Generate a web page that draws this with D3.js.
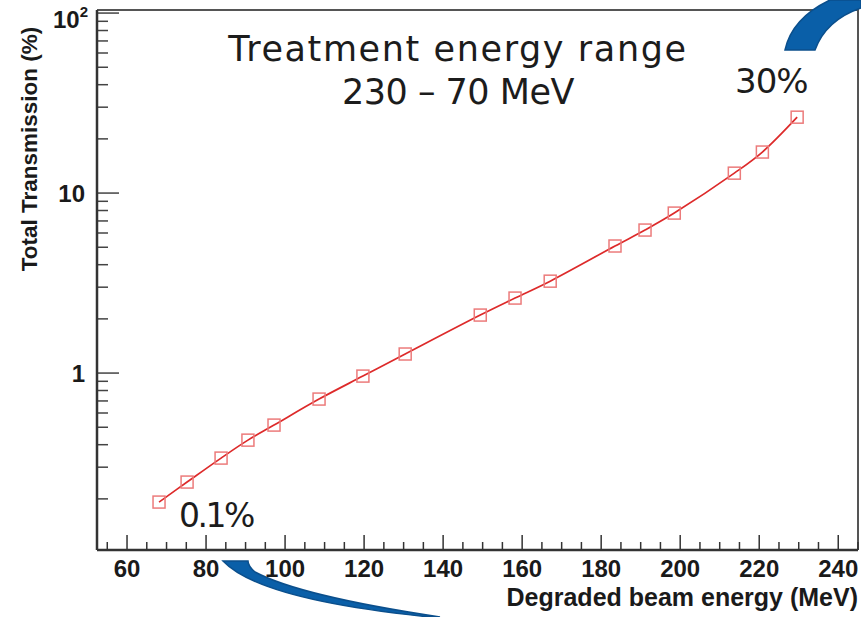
<!DOCTYPE html>
<html>
<head>
<meta charset="utf-8">
<script src="https://cdn.jsdelivr.net/npm/d3@7"></script>
<style>
  body { margin: 0; background: #fff; }
  svg { display: block; }
  .tick-label { font-family: "Liberation Sans", Arial, sans-serif; font-weight: bold; fill: #1a1a1a; }
  .note { font-family: "DejaVu Sans", sans-serif; font-weight: normal; fill: #1c1c1c; }
</style>
</head>
<body>
<svg id="chart" width="861" height="617"></svg>
<script>
// Datos: energía degradada (MeV) y transmisión total (%)
const energy = [68.1, 75.2, 83.8, 90.6, 97.2, 108.6, 119.7, 130.4, 149.4, 158.2, 167.1, 183.5, 191.1, 198.5, 213.7, 220.8, 229.6];
const transmission = [0.192, 0.248, 0.337, 0.424, 0.514, 0.717, 0.962, 1.276, 2.10, 2.61, 3.24, 5.08, 6.23, 7.74, 12.9, 16.9, 26.4];

const xMajorTicks = [60, 80, 100, 120, 140, 160, 180, 200, 220, 240];
const yMajorTicks = [1, 10, 100];
const xTitle = 'Degraded beam energy (MeV)';
const yTitle = 'Total Transmission (%)';
const noteLines = ['Treatment energy range', '230 – 70 MeV'];
const noteHigh = '30%';
const noteLow = '0.1%';

const width = 861;
const height = 617;
const margins = { left: 97, top: 10, right: 3, bottom: 67 };
const innerW = width - margins.left - margins.right;
const innerH = height - margins.top - margins.bottom;

const svg = d3.select('#chart');

// Escalas
const x = d3.scaleLinear().domain([52.4, 245]).range([margins.left, margins.left + innerW]);
const y = d3.scaleLog().domain([0.104, 104]).range([margins.top + innerH, margins.top]);

const points = energy.map((e, i) => ({ e, t: transmission[i] }));

// Marco (arriba y derecha)
svg.append('path')
  .attr('d', `M${margins.left},${margins.top}H${margins.left + innerW}V${margins.top + innerH}`)
  .attr('fill', 'none')
  .attr('stroke', '#555')
  .attr('stroke-width', 2);

// Eje X
const xMinor = d3.range(55, 246, 5).filter(v => v % 20 !== 0);
const xAxis = svg.append('g').attr('class', 'x-axis');
xAxis.selectAll('line.major')
  .data(xMajorTicks)
  .join('line')
  .attr('class', 'major')
  .attr('x1', d => x(d)).attr('x2', d => x(d))
  .attr('y1', y.range()[0]).attr('y2', y.range()[0] - 15)
  .attr('stroke', '#333').attr('stroke-width', 1.5);
xAxis.selectAll('line.minor')
  .data(xMinor)
  .join('line')
  .attr('class', 'minor')
  .attr('x1', d => x(d)).attr('x2', d => x(d))
  .attr('y1', y.range()[0]).attr('y2', y.range()[0] - 8)
  .attr('stroke', '#333').attr('stroke-width', 1.5);
xAxis.selectAll('text')
  .data(xMajorTicks)
  .join('text')
  .attr('class', 'tick-label')
  .attr('x', d => x(d))
  .attr('y', y.range()[0] + 27)
  .attr('text-anchor', 'middle')
  .style('font-size', '24px')
  .text(d => d);
xAxis.append('line')
  .attr('x1', margins.left).attr('x2', margins.left + innerW)
  .attr('y1', y.range()[0]).attr('y2', y.range()[0])
  .attr('stroke', '#333').attr('stroke-width', 2.5);

// Eje Y (logarítmico)
const yMinor = [];
[0.1, 1, 10].forEach(dec => d3.range(2, 10).forEach(k => yMinor.push(dec * k)));
const yAxis = svg.append('g').attr('class', 'y-axis');
yAxis.selectAll('line.major')
  .data(yMajorTicks)
  .join('line')
  .attr('class', 'major')
  .attr('x1', margins.left).attr('x2', margins.left + 22)
  .attr('y1', d => y(d)).attr('y2', d => y(d))
  .attr('stroke', '#444').attr('stroke-width', 1.5);
yAxis.selectAll('line.minor')
  .data(yMinor)
  .join('line')
  .attr('class', 'minor')
  .attr('x1', margins.left).attr('x2', margins.left + 11)
  .attr('y1', d => y(d)).attr('y2', d => y(d))
  .attr('stroke', '#444').attr('stroke-width', 1.5);
const yLabels = yAxis.selectAll('text')
  .data(yMajorTicks)
  .join('text')
  .attr('class', 'tick-label')
  .attr('text-anchor', 'end')
  .style('font-size', '24px');
yLabels.filter(d => d < 100)
  .attr('x', margins.left - 12)
  .attr('y', d => y(d) + 9)
  .text(d => d);
// 10^2 con superíndice
const sup = yLabels.filter(d => d === 100)
  .attr('x', margins.left - 9)
  .attr('y', d => y(d) + 15);
sup.append('tspan').text('10');
sup.append('tspan').attr('dy', -11).style('font-size', '15px').text('2');
yAxis.append('line')
  .attr('x1', margins.left).attr('x2', margins.left)
  .attr('y1', margins.top).attr('y2', margins.top + innerH)
  .attr('stroke', '#333').attr('stroke-width', 2.5);

// Títulos de los ejes
svg.append('text')
  .attr('class', 'tick-label')
  .attr('x', margins.left + innerW)
  .attr('y', 606)
  .attr('text-anchor', 'end')
  .style('font-size', '25px')
  .text(xTitle);
svg.append('text')
  .attr('class', 'tick-label')
  .attr('transform', `translate(37, 149) rotate(-90)`)
  .attr('text-anchor', 'middle')
  .style('font-size', '22.5px')
  .text(yTitle);

// Línea de datos
const line = d3.line()
  .x(d => x(d.e))
  .y(d => y(d.t))
  .curve(d3.curveCatmullRom);
svg.append('path')
  .datum(points)
  .attr('d', line)
  .attr('fill', 'none')
  .attr('stroke', '#dd2a2a')
  .attr('stroke-width', 1.7);

// Marcadores cuadrados
const size = 12;
svg.selectAll('rect.marker')
  .data(points)
  .join('rect')
  .attr('class', 'marker')
  .attr('x', d => x(d.e) - size / 2)
  .attr('y', d => y(d.t) - size / 2)
  .attr('width', size)
  .attr('height', size)
  .attr('fill', 'none')
  .attr('stroke', '#ec7b7b')
  .attr('stroke-width', 1.5);

// Anotaciones (un solo texto con dos líneas)
const note = svg.append('text')
  .attr('class', 'note')
  .attr('text-anchor', 'middle')
  .style('font-size', '35px');
note.selectAll('tspan')
  .data(noteLines)
  .join('tspan')
  .attr('x', 458)
  .attr('y', (d, i) => 61 + i * 43)
  .style('letter-spacing', (d, i) => i === 0 ? '1.6px' : '-0.5px')
  .text(d => d);
svg.append('text')
  .attr('class', 'note')
  .attr('x', 735)
  .attr('y', 93)
  .style('font-size', '34px')
  .style('letter-spacing', '-1px')
  .text(noteHigh);
svg.append('text')
  .attr('class', 'note')
  .attr('x', 179)
  .attr('y', 527)
  .style('font-size', '33px')
  .style('letter-spacing', '-2.5px')
  .text(noteLow);

// Flechas curvas azules
svg.append('path')
  .attr('d', 'M785,50 Q792,18 830,0 L861,0 L861,8 Q826,20 815,50 Z')
  .attr('fill', '#0a5fa8')
  .attr('stroke', '#0b4f8c')
  .attr('stroke-width', 1.5);
svg.append('path')
  .attr('d', 'M223,561 Q260,600 430,617 L440,617 Q300,596 255,572 Q248,566 248,561 Z')
  .attr('fill', '#0a5fa8')
  .attr('stroke', '#0b4f8c')
  .attr('stroke-width', 1.5);
</script>
</body>
</html>
